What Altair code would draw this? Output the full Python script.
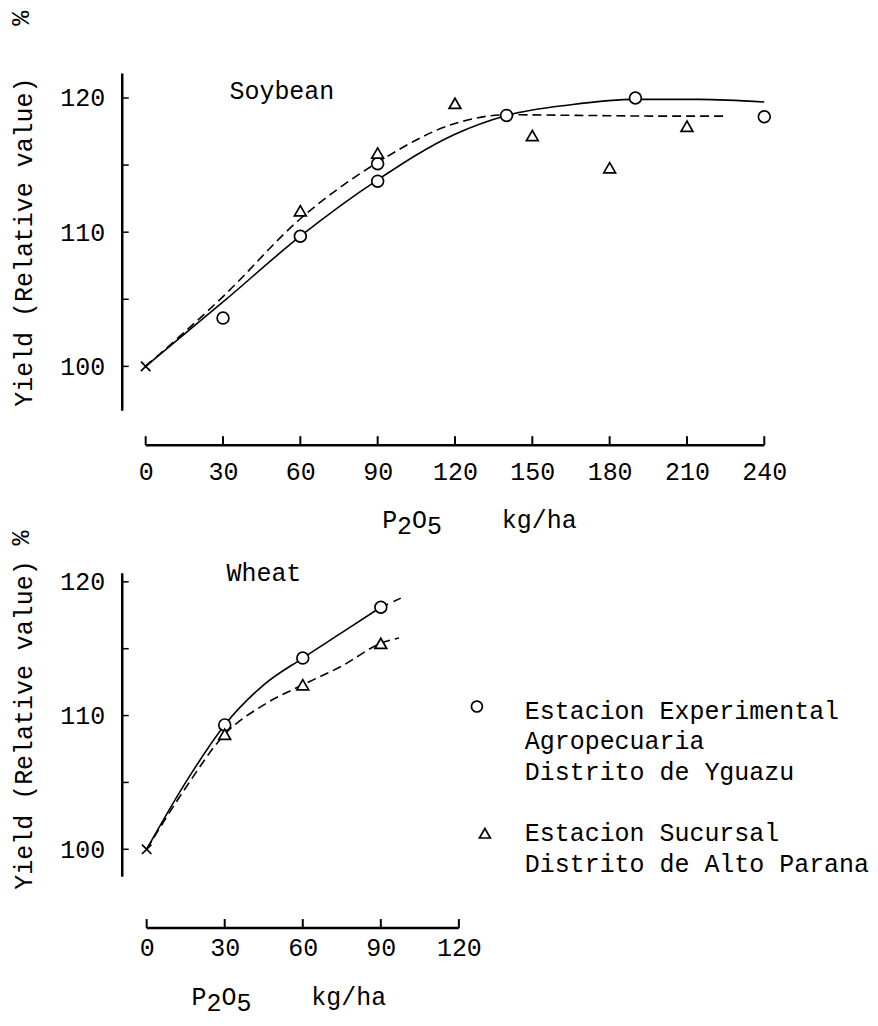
import altair as alt
import pandas as pd

FONT = "'Liberation Mono', 'DejaVu Sans Mono', monospace"
FS = 25
PITCH = 15  # advance of one monospace character at FS

# station names (legend text, lines separated by |)
YG = "Estacion Experimental|Agropecuaria|Distrito de Yguazu"
AP = "Estacion Sucursal|Distrito de Alto Parana"
STATIONS = [YG, AP]

# ---------------- Soybean ----------------
soy_yg_x = [30, 60, 90, 90, 140, 190, 240]
soy_yg_y = [103.6, 109.7, 115.1, 113.8, 118.7, 120.0, 118.6]
soy_ap_x = [60, 90, 120, 150, 180, 210]
soy_ap_y = [111.6, 115.9, 119.6, 117.2, 114.8, 117.9]
soy_yg_curve_x = [0, 30, 60, 90, 120, 140, 165, 190, 215, 240]
soy_yg_curve_y = [100, 104.8, 109.7, 113.9, 117.3, 118.7, 119.5, 119.9, 119.9, 119.7]
soy_ap_curve_x = [0, 30, 60, 90, 120, 140, 170, 200, 225]
soy_ap_curve_y = [100, 105.2, 111.0, 115.2, 118.1, 118.75, 118.7, 118.65, 118.65]
soy_xticks = [0, 30, 60, 90, 120, 150, 180, 210, 240]

# ---------------- Wheat ----------------
wheat_yg_x = [30, 60, 90]
wheat_yg_y = [109.3, 114.3, 118.1]
wheat_ap_x = [30, 60, 90]
wheat_ap_y = [108.6, 112.3, 115.4]
wheat_yg_curve_x = [0, 15, 30, 45, 60, 75, 90]
wheat_yg_curve_y = [100, 105.0, 109.3, 112.3, 114.3, 116.2, 118.1]
wheat_yg_ext_x = [90, 99]
wheat_yg_ext_y = [118.1, 118.9]
wheat_ap_curve_x = [0, 15, 30, 45, 60, 75, 90, 97]
wheat_ap_curve_y = [100, 104.6, 108.6, 110.8, 112.3, 113.7, 115.4, 115.8]
wheat_xticks = [0, 30, 60, 90, 120]

y_ticks = [100, 105, 110, 115, 120]
y_labels = [100, 110, 120]
control_x = [0]
control_y = [100]

# axis title "P2O5    kg/ha" (typewriter: subscripts typed lower)
X_TITLE_PARTS = [("P", 0, 0), ("2", 1, 6), ("O", 2, 0), ("5", 3, 6), ("kg/ha", 8, 0)]
Y_TITLE = "Yield (Relative value)"

SHAPE_SCALE = alt.Scale(domain=STATIONS, range=["circle", "triangle-up"])


def df_pts(xa, ya, st):
    return pd.DataFrame({"x": xa, "y": ya, "station": st})


def text_layer(txt, x, y, baseline="middle", size=FS, angle=0, line_break=None):
    kw = dict(align="left", baseline=baseline, font=FONT, fontSize=size,
              color="black")
    if angle:
        kw.update(angle=angle, align="center")
    if line_break:
        kw.update(lineBreak=line_break, lineHeight=31)
    return alt.Chart(pd.DataFrame({"t": [txt]})).mark_text(**kw).encode(
        x=alt.value(x), y=alt.value(y), text="t:N")


def panel(yg_curve, ap_curve, pts, ext, xdom, width, ydom, height, xticks,
          axis_off, lab_pad, crop, crop_xy, title_xy, pct_xy, with_legend):
    xs = alt.Scale(domain=xdom, nice=False, zero=False)
    ys = alt.Scale(domain=ydom, nice=False, zero=False)
    xaxis = alt.Axis(values=xticks, offset=axis_off, domain=False, ticks=False,
                     labelPadding=lab_pad, title=None, grid=False,
                     labelFont=FONT, labelFontSize=FS, labelColor="black",
                     labelFlush=False)
    yaxis = alt.Axis(values=y_labels, ticks=False, domain=True,
                     domainColor="black", domainWidth=2.5, labelPadding=17,
                     labelFont=FONT, labelFontSize=FS, labelColor="black",
                     title=Y_TITLE, titleFont=FONT, titleFontSize=FS,
                     titleFontWeight="normal", titleColor="black",
                     titlePadding=23, grid=False)

    def X(f):
        return alt.X(f, type="quantitative", scale=xs, axis=xaxis)

    def Y(f):
        return alt.Y(f, type="quantitative", scale=ys, axis=yaxis)

    layers = []
    layers.append(
        alt.Chart(yg_curve).mark_line(interpolate="monotone", color="black",
                                      strokeWidth=1.6).encode(
            x=X("x"), y=Y("y"))
    )
    layers.append(
        alt.Chart(ap_curve).mark_line(interpolate="monotone", color="black",
                                      strokeWidth=1.6, strokeDash=[9, 5]).encode(
            x=X("x"), y=Y("y"))
    )
    if ext is not None:
        layers.append(
            alt.Chart(ext).mark_line(color="black", strokeWidth=1.6,
                                     strokeDash=[8, 6]).encode(
                x=X("x"), y=Y("y"))
        )
    layers.append(
        alt.Chart(pts).mark_point(color="black", fill="white", fillOpacity=1,
                                  strokeWidth=1.7, size=140, opacity=1).encode(
            x=X("x"), y=Y("y"),
            shape=alt.Shape("station:N", scale=SHAPE_SCALE, legend=None),
        )
    )
    layers.append(
        alt.Chart(pd.DataFrame({"x": control_x, "y": control_y})).mark_point(
            shape="M-1,-1L1,1M-1,1L1,-1", size=90, stroke="black",
            strokeWidth=1.7, filled=False, opacity=1).encode(x=X("x"), y=Y("y"))
    )
    layers.append(
        alt.Chart(pd.DataFrame({"v": y_ticks})).mark_rule(
            color="black", strokeWidth=1.5).encode(
            y=Y("v"), x=alt.value(0), x2=alt.value(7))
    )
    layers.append(
        alt.Chart(pd.DataFrame({"a": [xticks[0]], "b": [xticks[-1]]})).mark_rule(
            color="black", strokeWidth=2.5).encode(
            x=X("a"), x2="b", y=alt.value(height + axis_off))
    )
    layers.append(
        alt.Chart(pd.DataFrame({"t": xticks})).mark_rule(
            color="black", strokeWidth=2).encode(
            x=X("t"), y=alt.value(height + axis_off - 9),
            y2=alt.value(height + axis_off))
    )
    layers.append(text_layer(crop, crop_xy[0], crop_xy[1]))
    for txt, col, dy in X_TITLE_PARTS:
        layers.append(text_layer(txt, title_xy[0] + col * PITCH, title_xy[1] + dy))
    layers.append(text_layer("%", pct_xy[0], pct_xy[1], angle=270))

    if with_legend:
        # legend: symbol + station name (multi-line)
        for st, sx, sy, ty in [(YG, 356, 134, 126), (AP, 364, 261, 249)]:
            layers.append(
                alt.Chart(pd.DataFrame({"station": [st]})).mark_point(
                    color="black", fill="white", fillOpacity=1,
                    strokeWidth=1.7, size=120, opacity=1).encode(
                    x=alt.value(sx), y=alt.value(sy),
                    shape=alt.Shape("station:N", scale=SHAPE_SCALE, legend=None))
            )
            layers.append(text_layer(st, 404, ty, baseline="top", line_break="|"))
    return alt.layer(*layers).properties(width=width, height=height)


soy_pts = pd.concat([df_pts(soy_yg_x, soy_yg_y, YG),
                     df_pts(soy_ap_x, soy_ap_y, AP)])
wheat_pts = pd.concat([df_pts(wheat_yg_x, wheat_yg_y, YG),
                       df_pts(wheat_ap_x, wheat_ap_y, AP)])

top = panel(df_pts(soy_yg_curve_x, soy_yg_curve_y, YG),
            df_pts(soy_ap_curve_x, soy_ap_curve_y, AP),
            soy_pts, None, [-9.29, 245.4], 658,
            [96.73, 121.86], 338, soy_xticks, 35, 14,
            "Soybean", (108, 18), (261, 448), (-101, -55), False)
bottom = panel(df_pts(wheat_yg_curve_x, wheat_yg_curve_y, YG),
               df_pts(wheat_ap_curve_x, wheat_ap_curve_y, AP),
               wheat_pts, df_pts(wheat_yg_ext_x, wheat_yg_ext_y, YG),
               [-9.58, 130], 364,
               [97.99, 120.67], 304, wheat_xticks, 52, 8,
               "Wheat", (105, 0), (70, 425), (-101, -35), True)

chart = alt.vconcat(top, bottom, spacing=163, bounds="flush").properties(
    padding={"left": 0, "top": 0, "right": 0, "bottom": 10}
).configure(
    view=alt.ViewConfig(stroke="transparent"),
)

chart.save("out.html", embed_options={"renderer": "svg", "actions": False})
